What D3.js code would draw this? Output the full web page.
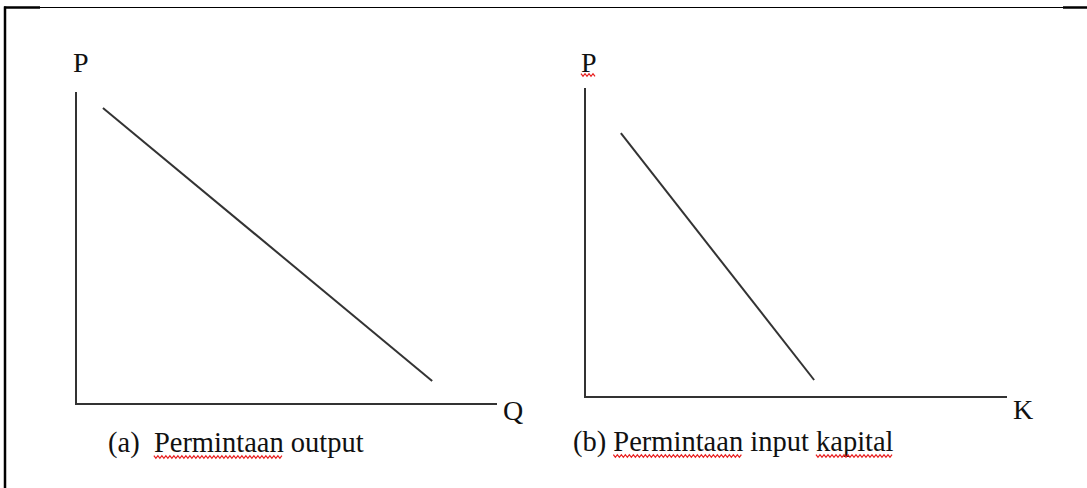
<!DOCTYPE html>
<html>
<head>
<meta charset="utf-8">
<script src="https://cdn.jsdelivr.net/npm/d3@7"></script>
<style>
  html, body { margin: 0; padding: 0; background: #fff; }
  svg { display: block; }
  text { font-family: "Liberation Serif", "Times New Roman", serif; fill: #111; }
</style>
</head>
<body>
<svg id="chart" width="1087" height="488"></svg>
<script>
// ---- data ----
const panels = ["a", "b"];
const yLabels = ["P", "P"];
const xLabels = ["Q", "K"];
const captions = ["(a)  Permintaan output", "(b) Permintaan input kapital"];
// misspelled-word squiggles: [startCharIndex, endCharIndex] in caption
const squiggleWordsA = [[5, 14]];
const squiggleWordsB = [[4, 13], [21, 27]];
const squiggleP = [false, true];
// demand lines (quantity, price) in axis units 0..100
const demandA_Q = [6.4, 84.6];
const demandA_P = [94.9, 7.4];
const demandB_Q = [8.5, 54.3];
const demandB_P = [85.4, 5.5];

const svg = d3.select("#chart");

// frame
svg.append("line").attr("x1", 5).attr("x2", 5).attr("y1", 6.5).attr("y2", 488)
  .attr("stroke", "#000").attr("stroke-width", 2.5);
svg.append("line").attr("x1", 4).attr("x2", 40).attr("y1", 7.5).attr("y2", 7.5)
  .attr("stroke", "#000").attr("stroke-width", 2.5);
svg.append("line").attr("x1", 40).attr("x2", 1063).attr("y1", 7.5).attr("y2", 7.5)
  .attr("stroke", "#000").attr("stroke-width", 1.2);
svg.append("line").attr("x1", 1063).attr("x2", 1087).attr("y1", 7.5).attr("y2", 7.5)
  .attr("stroke", "#000").attr("stroke-width", 2.5);

const layout = [
  { xr: [76, 497], yr: [404, 92], ylab: [73, 72], xlab: [503, 420], cap: [108, 452],
    dq: demandA_Q, dp: demandA_P, sq: squiggleWordsA },
  { xr: [585, 1007], yr: [397, 88], ylab: [581, 72], xlab: [1013, 419], cap: [573, 451],
    dq: demandB_Q, dp: demandB_P, sq: squiggleWordsB }
];

function squiggle(x0, x1, y) {
  const pts = [];
  const step = 2;
  let i = 0;
  for (let x = x0; x <= x1; x += step, i++) {
    pts.push([x, y + (i % 2 === 0 ? -1.3 : 1.3)]);
  }
  return d3.line()(pts);
}

panels.forEach((p, k) => {
  const L = layout[k];
  const x = d3.scaleLinear().domain([0, 100]).range(L.xr);
  const y = d3.scaleLinear().domain([0, 100]).range(L.yr);
  const g = svg.append("g");

  // axes (L-shape)
  g.append("path")
    .attr("d", d3.line()([[x(0), y(100)], [x(0), y(0)], [x(100), y(0)]]))
    .attr("fill", "none").attr("stroke", "#333").attr("stroke-width", 2);

  // demand line
  const pts = L.dq.map((q, i) => [x(q), y(L.dp[i])]);
  g.append("path").attr("d", d3.line()(pts))
    .attr("fill", "none").attr("stroke", "#333").attr("stroke-width", 2);

  // labels
  const yl = g.append("text").attr("x", L.ylab[0]).attr("y", L.ylab[1])
    .attr("font-size", 28).text(yLabels[k]);
  g.append("text").attr("x", L.xlab[0]).attr("y", L.xlab[1])
    .attr("font-size", 28).text(xLabels[k]);
  if (squiggleP[k]) {
    const bb = yl.node().getBBox();
    g.append("path").attr("d", squiggle(bb.x, bb.x + bb.width, L.ylab[1] + 3))
      .attr("fill", "none").attr("stroke", "#e82020").attr("stroke-width", 1.3);
  }

  // caption
  const cap = g.append("text").attr("x", L.cap[0]).attr("y", L.cap[1])
    .attr("font-size", 28.5).attr("xml:space", "preserve")
    .style("white-space", "pre").text(captions[k]);
  const node = cap.node();
  L.sq.forEach(([s, e]) => {
    const x0 = node.getStartPositionOfChar(s).x;
    const x1 = node.getEndPositionOfChar(e).x;
    g.append("path").attr("d", squiggle(x0, x1, L.cap[1] + 5))
      .attr("fill", "none").attr("stroke", "#e82020").attr("stroke-width", 1.3);
  });
});
</script>
</body>
</html>
